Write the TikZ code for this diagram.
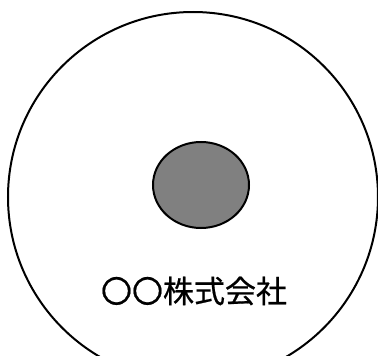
\documentclass[tikz,border=0pt]{standalone}
\usepackage{fontspec}
\newfontfamily\cjk[FakeBold=0.6]{Noto Sans CJK JP}
\tikzset{
  outerring/.style={draw=black, line width=2pt},
  innerdisc/.style={draw=black, line width=2pt, fill={rgb,255:red,128;green,128;blue,128}},
  label/.style={font=\cjk\fontsize{31}{34}\selectfont, inner sep=0pt}
}
\begin{document}
\begin{tikzpicture}[x=1pt,y=-1pt]
\useasboundingbox (0,0) rectangle (378,356);
\clip (0,0) rectangle (378,356);
\draw[outerring] (193,197) ellipse [x radius=185, y radius=185];
\draw[innerdisc] (201,185) ellipse [x radius=48, y radius=43];
\node[label] (name) at (194,291) {〇〇株式会社};
\end{tikzpicture}
\end{document}
